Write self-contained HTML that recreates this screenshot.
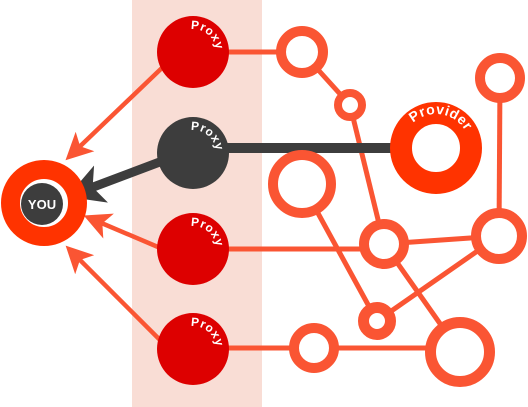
<!DOCTYPE html>
<html><head><style>body{margin:0;background:#fff}svg{display:block}</style></head><body>
<svg width="528" height="407" viewBox="0 0 528 407" xmlns="http://www.w3.org/2000/svg" font-family="Liberation Sans, sans-serif">
<defs>
<marker id="ah" markerWidth="6" markerHeight="6" refX="4" refY="3" orient="auto" markerUnits="strokeWidth"><path d="M0,0 L6,3 L0,6 L1.5,3 Z" fill="#fa5533"/></marker>
<marker id="ahd" markerWidth="4" markerHeight="4.4" refX="2.5" refY="2.2" orient="auto" markerUnits="strokeWidth"><path d="M0,0 L4,2.2 L0,4.4 L1,2.2 Z" fill="#3d3d3d"/></marker>
<path id="pa1" d="M170,52 A23,23 0 0 1 216,52"/>
<path id="pa2" d="M170,153 A23,23 0 0 1 216,153"/>
<path id="pa3" d="M170,249 A23,23 0 0 1 216,249"/>
<path id="pa4" d="M170,349 A23,23 0 0 1 216,349"/>
<path id="pv" d="M402,148 A34,34 0 0 1 470,148"/>
</defs>
<rect x="132" y="0" width="130" height="407" fill="#f9ddd5"/>
<g stroke="#fa5533" stroke-width="5" fill="none">
<line x1="193" y1="52" x2="302" y2="52"/>
<line x1="302" y1="52" x2="350" y2="105"/>
<line x1="350" y1="105" x2="384" y2="244"/>
<line x1="384" y1="244" x2="460" y2="352"/>
<line x1="302" y1="184" x2="377" y2="321"/>
<line x1="377" y1="321" x2="499" y2="236"/>
<line x1="384" y1="244" x2="499" y2="236"/>
<line x1="500" y1="78" x2="499" y2="236"/>
<line x1="193" y1="249" x2="384" y2="249"/>
<line x1="193" y1="348" x2="460" y2="348"/>
</g>
<line x1="193" y1="148" x2="410" y2="148" stroke="#3d3d3d" stroke-width="10"/>
<g stroke="#fa5533" stroke-width="4.5">
<line x1="165" y1="65" x2="72" y2="154" marker-end="url(#ah)"/>
<line x1="165" y1="250" x2="92" y2="219" marker-end="url(#ah)"/>
<line x1="165" y1="345" x2="72" y2="252" marker-end="url(#ah)"/>
</g>
<line x1="165" y1="160" x2="80" y2="192" stroke="#3d3d3d" stroke-width="9" marker-end="url(#ahd)"/>
<g fill="#fff" stroke="#fa5533">
<circle cx="302" cy="52" r="21" stroke-width="10"/>
<circle cx="350" cy="105" r="12" stroke-width="8"/>
<circle cx="302" cy="184" r="29" stroke-width="10"/>
<circle cx="500" cy="78" r="20" stroke-width="10"/>
<circle cx="384" cy="244" r="20" stroke-width="10"/>
<circle cx="499" cy="236" r="23" stroke-width="10"/>
<circle cx="377" cy="321" r="13.5" stroke-width="11"/>
<circle cx="314" cy="348" r="20" stroke-width="10"/>
<circle cx="460" cy="352" r="29.5" stroke-width="11"/>
</g>
<circle cx="436" cy="148" r="35" fill="#fff" stroke="#ff3300" stroke-width="22"/>
<circle cx="44" cy="203" r="33.5" fill="#fff" stroke="#ff3300" stroke-width="19"/>
<circle cx="42" cy="204" r="21" fill="#3d3d3d"/>
<text x="42" y="209" font-size="13" font-weight="bold" fill="#fff" text-anchor="middle">YOU</text>
<circle cx="193" cy="52" r="36" fill="#dd0000"/>
<circle cx="193" cy="153" r="36" fill="#3d3d3d"/>
<circle cx="193" cy="249" r="36" fill="#dd0000"/>
<circle cx="193" cy="349" r="36" fill="#dd0000"/>
<g fill="#fff" font-size="12" font-weight="bold" letter-spacing="0.5" text-anchor="middle">
<text><textPath href="#pa1" startOffset="72%">Proxy</textPath></text>
<text><textPath href="#pa2" startOffset="72%">Proxy</textPath></text>
<text><textPath href="#pa3" startOffset="72%">Proxy</textPath></text>
<text><textPath href="#pa4" startOffset="72%">Proxy</textPath></text>
<text font-size="14"><textPath href="#pv" startOffset="55%">Provider</textPath></text>
</g>
</svg>
</body></html>
